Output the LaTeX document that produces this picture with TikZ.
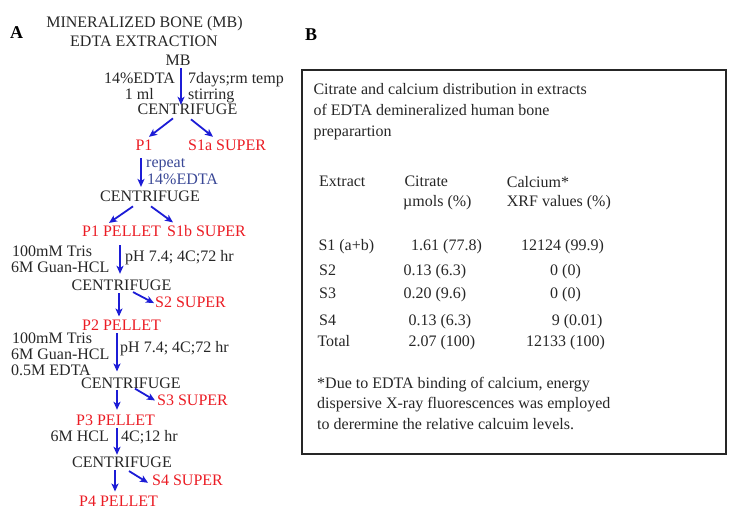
\documentclass[tikz,border=0pt]{standalone}
\usepackage{fontspec}
\setmainfont{Liberation Serif}
\usetikzlibrary{arrows.meta}

\definecolor{inkgray}{RGB}{38,38,38}
\definecolor{pelletred}{RGB}{235,28,36}
\definecolor{flowblue}{RGB}{28,28,214}
\definecolor{repeatblue}{RGB}{58,72,150}

\tikzset{
  stage/.style={font=\fontsize{16}{16}\selectfont, text=inkgray, inner sep=0pt},
  pellet/.style={stage, text=pelletred},
  flow/.style={draw=flowblue, line width=1.8pt, -{Stealth[length=8pt,width=7pt,inset=2pt]}},
  cell/.style={font=\fontsize{16}{16}\selectfont, text=inkgray, inner sep=0pt, anchor=base west},
  panel/.style={font=\fontsize{18}{18}\selectfont\bfseries, text=black, inner sep=0pt, anchor=base west}
}

\begin{document}
\begin{tikzpicture}[x=1pt,y=-1pt]
\useasboundingbox (0,0) rectangle (741,523);

% panel letters
\node[panel] (pa) at (10,38.3) {A};
\node[panel] (pb) at (305,40) {B};

% flow chart
\node[stage, anchor=base] (head1) at (144.5,27.7) {MINERALIZED BONE (MB)};
\node[stage, anchor=base] (head2) at (144,46.7) {EDTA EXTRACTION};
\node[stage, anchor=base] (mb) at (178,65.7) {MB};
\node[stage, anchor=base east] (edta1) at (175,83.3) {14\%EDTA};
\node[stage, anchor=base west] (days) at (188,83.3) {7days;rm temp};
\node[stage, anchor=base east] (ml) at (154,99) {1 ml};
\node[stage, anchor=base west] (stir) at (188,99) {stirring};
\node[stage, anchor=base] (cf1) at (187.5,114.3) {CENTRIFUGE};
\node[pellet, anchor=base] (p1) at (144,150) {P1};
\node[pellet, anchor=base west] (s1a) at (188,150) {S1a SUPER};
\node[stage, text=repeatblue, anchor=base west] (rep) at (146,167) {repeat};
\node[stage, text=repeatblue, anchor=base west] (edta2) at (147,184) {14\%EDTA};
\node[stage, anchor=base] (cf2) at (150,201.7) {CENTRIFUGE};
\node[pellet, anchor=base west] (p1p) at (82,236.7) {P1 PELLET};
\node[pellet, anchor=base west] (s1b) at (167,236.7) {S1b SUPER};
\node[stage, anchor=base west] (tris1) at (12,256) {100mM Tris};
\node[stage, anchor=base west] (guan1) at (11,272.7) {6M Guan-HCL};
\node[stage, anchor=base west] (ph1) at (125,261.7) {pH 7.4; 4C;72 hr};
\node[stage, anchor=base] (cf3) at (121.5,290) {CENTRIFUGE};
\node[pellet, anchor=base west] (s2) at (155,307) {S2 SUPER};
\node[pellet, anchor=base west] (p2) at (82,330.7) {P2 PELLET};
\node[stage, anchor=base west] (tris2) at (12,343.5) {100mM Tris};
\node[stage, anchor=base west] (guan2) at (11,359.3) {6M Guan-HCL};
\node[stage, anchor=base west] (edta3) at (11,375) {0.5M EDTA};
\node[stage, anchor=base west] (ph2) at (120,352.7) {pH 7.4; 4C;72 hr};
\node[stage, anchor=base] (cf4) at (131,388.3) {CENTRIFUGE};
\node[pellet, anchor=base west] (s3) at (157,405.7) {S3 SUPER};
\node[pellet, anchor=base west] (p3) at (76,425.7) {P3 PELLET};
\node[stage, anchor=base east] (hcl) at (109,441.7) {6M HCL};
\node[stage, anchor=base west] (cold) at (121,441.7) {4C;12 hr};
\node[stage, anchor=base] (cf5) at (122,467.3) {CENTRIFUGE};
\node[pellet, anchor=base west] (s4) at (152,485.7) {S4 SUPER};
\node[pellet, anchor=base west] (p4) at (79,506.7) {P4 PELLET};

% arrows
\draw[flow] ([xshift=3pt,yshift=-2.3pt]mb.south) -- ([xshift=-6.5pt,yshift=-1.3pt]cf1.north);
\draw[flow] ([xshift=-14.5pt,yshift=-3.7pt]cf1.south) -- ([xshift=5pt,yshift=2.4pt]p1.north);
\draw[flow] ([xshift=3.5pt,yshift=-4.7pt]cf1.south) -- ([xshift=25pt,yshift=2.4pt]s1a.north west);
\draw[flow] ([xshift=-3pt,yshift=-8pt]p1.south) -- ([xshift=-9pt,yshift=4pt]cf2.north);
\draw[flow] ([xshift=-17pt,yshift=-4.3pt]cf2.south) -- ([xshift=27pt,yshift=3pt]p1p.north west);
\draw[flow] ([xshift=1pt,yshift=-4.3pt]cf2.south) -- ([xshift=6pt,yshift=3pt]s1b.north west);
\draw[flow] ([xshift=38pt,yshift=-8.3pt]p1p.south west) -- ([xshift=-1.5pt,yshift=5.4pt]cf3.north);
\draw[flow] ([xshift=-2.5pt,yshift=-3pt]cf3.south) -- ([xshift=37pt,yshift=3.4pt]p2.north west);
\draw[flow] ([xshift=11.5pt,yshift=-1.7pt]cf3.south) -- ([xshift=-1pt,yshift=-1.3pt]s2.west);
\draw[flow] ([xshift=35pt,yshift=-2.3pt]p2.south west) -- ([xshift=-14pt,yshift=6pt]cf4.north);
\draw[flow] ([xshift=-14pt,yshift=-1.7pt]cf4.south) -- ([xshift=41pt,yshift=5.1pt]p3.north west);
\draw[flow] ([xshift=4pt]cf4.south) -- ([xshift=-2pt]s3.west);
\draw[flow] ([xshift=41pt,yshift=-2.3pt]p3.south west) -- ([xshift=-5pt,yshift=1.7pt]cf5.north);
\draw[flow] ([xshift=-7pt,yshift=-2.7pt]cf5.south) -- ([xshift=36pt,yshift=4.4pt]p4.north west);
\draw[flow] ([xshift=7pt,yshift=-3.4pt]cf5.south) -- ([xshift=-4pt,yshift=-2.3pt]s4.west);

% table panel
\draw[line width=2.2pt, color=inkgray] (302,70) rectangle (726,454);
\node[cell] (cap1) at (313.3,94.3) {Citrate and calcium distribution in extracts};
\node[cell] (cap2) at (313.3,115) {of EDTA demineralized human bone};
\node[cell] (cap3) at (313.3,136.7) {preparartion};

\node[cell] (hext) at (319,186.7) {Extract};
\node[cell] (hcit) at (404.3,186.7) {Citrate};
\node[cell] (hcitu) at (403,206.7) {µmols (\%)};
\node[cell] (hcal) at (506.7,187) {Calcium*};
\node[cell] (hcalu) at (506.7,206.7) {XRF values (\%)};

\node[cell] (rs1) at (318.3,250) {S1 (a+b)};
\node[cell] (cs1) at (411,250) {1.61 (77.8)};
\node[cell] (ks1) at (521,250) {12124 (99.9)};
\node[cell] (rs2) at (319,275) {S2};
\node[cell] (cs2) at (403.3,275) {0.13 (6.3)};
\node[cell] (ks2) at (550,275) {0 (0)};
\node[cell] (rs3) at (319,298.3) {S3};
\node[cell] (cs3) at (403.3,298.3) {0.20 (9.6)};
\node[cell] (ks3) at (550,298.3) {0 (0)};
\node[cell] (rs4) at (319,325) {S4};
\node[cell] (cs4) at (408.3,325) {0.13 (6.3)};
\node[cell] (ks4) at (551.7,325) {9 (0.01)};
\node[cell] (rtot) at (317.3,346.7) {Total};
\node[cell] (ctot) at (408.3,346.7) {2.07 (100)};
\node[cell] (ktot) at (526,346.7) {12133 (100)};

\node[cell] (note1) at (317,388.3) {*Due to EDTA binding of calcium, energy};
\node[cell] (note2) at (317,408.3) {dispersive X-ray fluorescences was employed};
\node[cell] (note3) at (317,429.3) {to derermine the relative calcuim levels.};
\end{tikzpicture}
\end{document}
